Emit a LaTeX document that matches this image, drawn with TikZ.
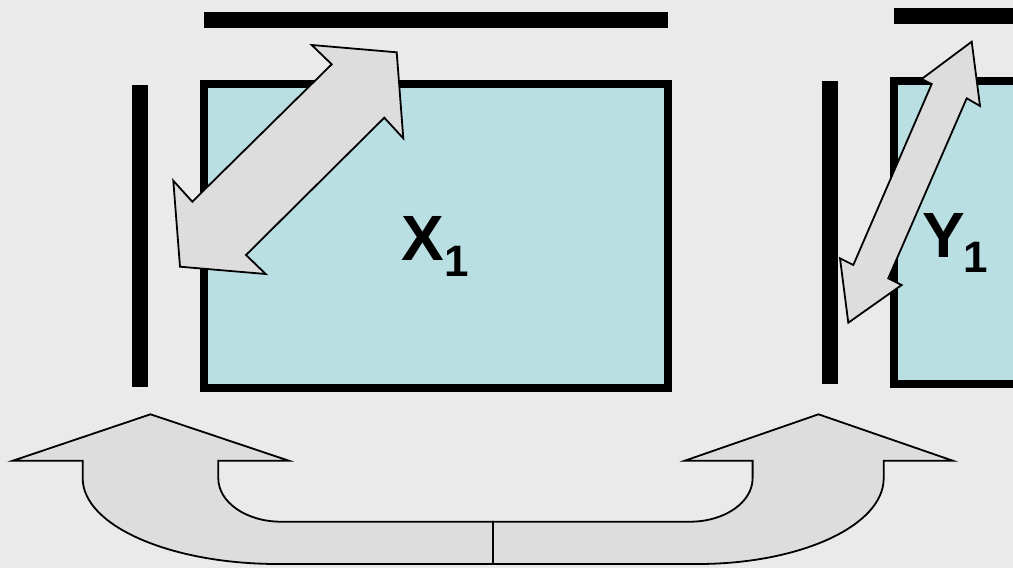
\documentclass[tikz,border=0pt]{standalone}
\usepackage{fontspec}
\setmainfont{Liberation Sans}
\definecolor{bgc}{HTML}{EAEAEA}
\definecolor{boxc}{HTML}{B9DFE3}
\definecolor{arrc}{HTML}{DDDDDD}
\begin{document}
\begin{tikzpicture}[x=1pt,y=-1pt,
  bar/.style={line width=16pt,black},
  setbox/.style={draw=black,line width=8pt,fill=boxc},
  blockarrow/.style={draw=black,line width=1.8pt,fill=arrc,line join=miter},
  bigletter/.style={font=\bfseries\fontsize{64}{64}\selectfont,inner sep=0pt,anchor=base west},
  subletter/.style={font=\bfseries\fontsize{44}{44}\selectfont,inner sep=0pt,anchor=base west}]
\fill[bgc] (0,0) rectangle (1013,568);
\useasboundingbox (0,0) rectangle (1013,568);
% left group
\coordinate (lt1) at (204,20.3);
\coordinate (lt2) at (668,20.3);
\draw[bar] (lt1) -- (lt2);
\coordinate (lv1) at (140,85);
\coordinate (lv2) at (140,387);
\draw[bar] (lv1) -- (lv2);
\draw[setbox] (204,84) rectangle (668,388);
\node[bigletter] (x1) at (401.5,260) {X};
\node[subletter] (x1s) at (444.5,276) {1};
\draw[blockarrow] (311.7,45) -- (396.7,52.3) -- (403.3,138.3) -- (384.3,117.7)
  -- (246,255) -- (265.7,274) -- (180,266.7) -- (173.3,180.7) -- (192.3,201.7)
  -- (331.7,64.3) -- cycle;
% right group
\coordinate (rt1) at (894,16.3);
\coordinate (rt2) at (1020,16.3);
\draw[bar] (rt1) -- (rt2);
\coordinate (rv1) at (830,81);
\coordinate (rv2) at (830,384);
\draw[bar] (rv1) -- (rv2);
\draw[setbox] (894.2,80.7) rectangle (1030,384);
\node[bigletter] (y1) at (922,257) {Y};
\node[subletter] (y1s) at (963,272) {1};
\draw[blockarrow] (971.7,41.7) -- (980,106) -- (966.7,98.3) -- (888.3,278.3)
  -- (901.7,285) -- (848.3,322.7) -- (840,258.3) -- (853.3,265) -- (931.7,84)
  -- (921.7,79) -- cycle;
% bottom U arrows
\draw[blockarrow] (150.5,414.3) -- (288.8,460.7) -- (218.3,460.7) -- (218.3,478.3)
  .. controls (218.3,502.3) and (246.4,521.7) .. (281,521.7) -- (492.9,521.7)
  -- (492.9,564) -- (278,564)
  .. controls (170.1,564) and (82.7,525.6) .. (82.7,478.3) -- (82.7,460.7)
  -- (12.9,460.7) -- cycle;
\draw[blockarrow] (818.5,414.3) -- (952.8,460.7) -- (883.7,460.7) -- (883.7,478.3)
  .. controls (883.7,525.6) and (800.4,564) .. (697.7,564) -- (492.9,564)
  -- (492.9,521.7) -- (690,521.7)
  .. controls (724.6,521.7) and (752.6,502.3) .. (752.6,478.3) -- (752.6,460.7)
  -- (684.8,460.7) -- cycle;
\end{tikzpicture}
\end{document}
